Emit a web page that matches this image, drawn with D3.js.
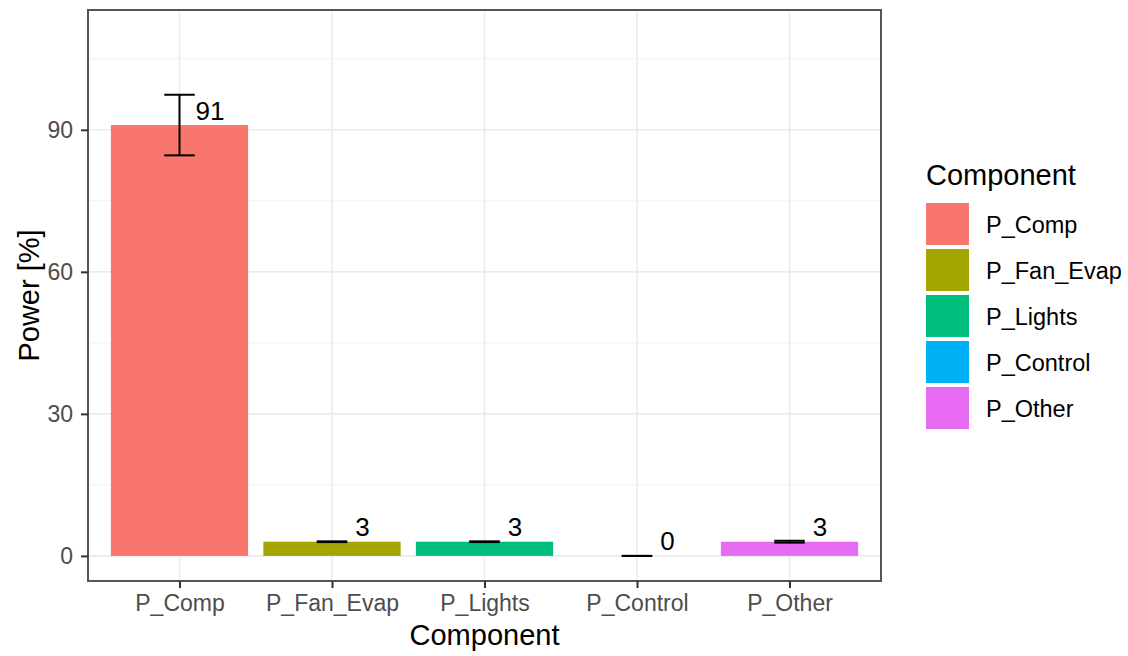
<!DOCTYPE html>
<html lang="en">
<head>
  <meta charset="UTF-8">
  <script src="https://cdn.jsdelivr.net/npm/d3@7"></script>
  <title>Power by component</title>
  <style>
    body { margin: 0; background: #fff; }
    text { font-family: "Liberation Sans", Arial, sans-serif; }
  </style>
</head>
<body>
  <svg width="1128" height="656"></svg>
  <script>
    // data
    var categories = ["P_Comp", "P_Fan_Evap", "P_Lights", "P_Control", "P_Other"];
    var values = [91, 3, 3, 0, 3];
    var errors = [6.4, 0.08, 0.08, 0, 0.2];
    var labels = ["91", "3", "3", "0", "3"];
    var colors = ["#F8766D", "#A3A500", "#00BF7D", "#00B0F6", "#E76BF3"];
    var yTicks = [0, 30, 60, 90];
    var yMinor = [15, 45, 75, 105];

    var svg = d3.select("svg");
    var panel = { left: 88, right: 881, top: 10, bottom: 581 };

    var x = d3.scalePoint()
      .domain(categories)
      .range([panel.left, panel.right])
      .padding(0.6);
    var step = x.step();

    var y = d3.scaleLinear()
      .domain([-5.3, 115.3])
      .range([panel.bottom, panel.top]);

    var data = categories.map((c, i) => ({ cat: c, val: values[i], err: errors[i], lab: labels[i], col: colors[i] }));

    // grid
    var grid = svg.append("g");
    grid.selectAll(".minor-y").data(yMinor).enter().append("line")
      .attr("x1", panel.left).attr("x2", panel.right)
      .attr("y1", d => y(d)).attr("y2", d => y(d))
      .attr("stroke", "#f2f2f2").attr("stroke-width", 1);
    grid.selectAll(".major-y").data(yTicks).enter().append("line")
      .attr("x1", panel.left).attr("x2", panel.right)
      .attr("y1", d => y(d)).attr("y2", d => y(d))
      .attr("stroke", "#ebebeb").attr("stroke-width", 1.6);
    grid.selectAll(".major-x").data(categories).enter().append("line")
      .attr("x1", d => x(d)).attr("x2", d => x(d))
      .attr("y1", panel.top).attr("y2", panel.bottom)
      .attr("stroke", "#ebebeb").attr("stroke-width", 1.6);

    // bars
    svg.append("g").selectAll("rect").data(data).enter().append("rect")
      .attr("x", d => x(d.cat) - step * 0.45)
      .attr("width", step * 0.9)
      .attr("y", d => Math.min(y(d.val), y(0)))
      .attr("height", d => Math.abs(y(0) - y(d.val)))
      .attr("fill", d => d.col);

    // error bars
    var eb = svg.append("g").attr("stroke", "#000").attr("stroke-width", 2).attr("fill", "none");
    var ew = step * 0.2;
    data.forEach(function (d) {
      var cx = x(d.cat), hi = y(d.val + d.err), lo = y(d.val - d.err);
      eb.append("line").attr("x1", cx - ew / 2).attr("x2", cx + ew / 2).attr("y1", hi).attr("y2", hi);
      eb.append("line").attr("x1", cx - ew / 2).attr("x2", cx + ew / 2).attr("y1", lo).attr("y2", lo);
      eb.append("line").attr("x1", cx).attr("x2", cx).attr("y1", hi).attr("y2", lo);
    });

    // value labels
    svg.append("g").selectAll("text").data(data).enter().append("text")
      .attr("x", d => x(d.cat) + step * 0.2)
      .attr("y", d => y(d.val) - 5.5)
      .attr("text-anchor", "middle")
      .attr("font-size", 26)
      .attr("fill", "#000")
      .text(d => d.lab);

    // panel border
    svg.append("rect")
      .attr("x", panel.left).attr("y", panel.top)
      .attr("width", panel.right - panel.left).attr("height", panel.bottom - panel.top)
      .attr("fill", "none").attr("stroke", "#555").attr("stroke-width", 2);

    // axes
    var yAxis = svg.append("g")
      .attr("transform", `translate(${panel.left},0)`)
      .call(d3.axisLeft(y).tickValues(yTicks).tickSize(7).tickPadding(8));
    var xAxis = svg.append("g")
      .attr("transform", `translate(0,${panel.bottom})`)
      .call(d3.axisBottom(x).tickSize(7).tickPadding(7));
    [xAxis, yAxis].forEach(function (a) {
      a.select(".domain").remove();
      a.selectAll(".tick line").attr("stroke", "#333").attr("stroke-width", 2);
      a.selectAll(".tick text").attr("fill", "#4d4d4d").attr("font-size", 23)
        .attr("font-family", "Liberation Sans, Arial, sans-serif");
    });

    // axis titles
    svg.append("text")
      .attr("x", (panel.left + panel.right) / 2).attr("y", 645)
      .attr("text-anchor", "middle").attr("font-size", 29).attr("fill", "#000")
      .text("Component");
    svg.append("text")
      .attr("transform", `translate(39,${(panel.top + panel.bottom) / 2}) rotate(-90)`)
      .attr("text-anchor", "middle").attr("font-size", 29).attr("fill", "#000")
      .text("Power [%]");

    // legend
    var legend = svg.append("g").attr("transform", "translate(926,0)");
    legend.append("text").attr("x", 0).attr("y", 185)
      .attr("font-size", 29).attr("fill", "#000").text("Component");
    var items = legend.selectAll(".item").data(data).enter().append("g")
      .attr("transform", (d, i) => `translate(0,${203 + i * 46})`);
    items.append("rect").attr("width", 43).attr("height", 42).attr("fill", d => d.col);
    items.append("text").attr("x", 60).attr("y", 30)
      .attr("font-size", 23.5).attr("fill", "#000").text(d => d.cat);
  </script>
</body>
</html>
